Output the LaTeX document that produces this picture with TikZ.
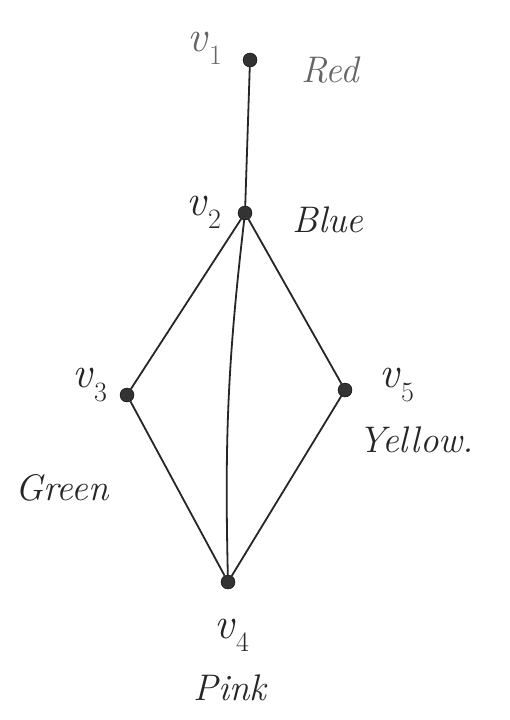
\documentclass[tikz,border=0pt]{standalone}
\usepackage{fontspec}
\usepackage{tikz}
\newcommand{\vsubx}[1]{\textit{v}\raisebox{-0.3em}{\fontsize{28}{32}\selectfont #1}}
\begin{document}
\begin{tikzpicture}[x=1pt,y=-1pt,
  vtx/.style={circle,fill=black!80,draw=black,minimum size=14pt,inner sep=0pt},
  lbl/.style={font=\fontsize{37}{42}\selectfont\itshape,text=black!85},
  vl/.style={font=\fontsize{44}{50}\selectfont,text=black!85},
  edge/.style={draw=black!85,line width=1.8pt}]
\useasboundingbox (0,0) rectangle (509,720);
\fill[white] (0,0) rectangle (509,720);
\node[vtx] (v1) at (250,60) {};
\node[vtx] (v2) at (245,213) {};
\node[vtx] (v3) at (127,395) {};
\node[vtx] (v5) at (345,390) {};
\node[vtx] (v4) at (228,582) {};
\node[vl,text=black!60] (l1) at (205,48) {\vsubx{1}};
\node[lbl,text=black!60] (c1) at (330,70) {Red};
\node[vl] (l2) at (204,212) {\vsubx{2}};
\node[lbl] (c2) at (328,220) {Blue};
\node[vl] (l3) at (90,385) {\vsubx{3}};
\node[lbl] (c3) at (62,488) {Green};
\node[vl] (l5) at (397,385) {\vsubx{5}};
\node[lbl] (c5) at (416,440) {Yellow.};
\node[vl] (l4) at (232,635) {\vsubx{4}};
\node[lbl] (c4) at (230,688) {Pink};
\draw[edge] (v1) -- (v2);
\draw[edge] (v2) -- (v3);
\draw[edge] (v2) -- (v5);
\draw[edge] (v2) to[bend right=4] (v4);
\draw[edge] (v3) -- (v4);
\draw[edge] (v5) -- (v4);
\end{tikzpicture}
\end{document}
